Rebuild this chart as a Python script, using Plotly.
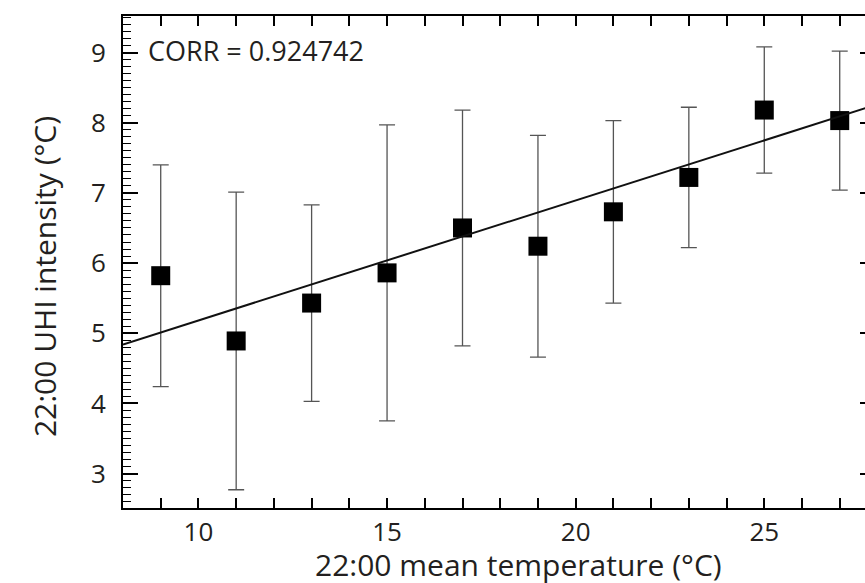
import plotly.graph_objects as go

# Data
temperature = [9, 11, 13, 15, 17, 19, 21, 23, 25, 27]
uhi_mean = [5.82, 4.89, 5.43, 5.86, 6.50, 6.24, 6.73, 7.22, 8.18, 8.03]
uhi_std = [1.58, 2.12, 1.40, 2.11, 1.68, 1.58, 1.30, 1.00, 0.90, 0.99]
fit_x = [8.0, 27.7]
fit_y = [4.84, 8.21]
corr_text = "CORR = 0.924742"
x_title = "22:00 mean temperature (°C)"
y_title = "22:00 UHI intensity (°C)"

INK = "#231f20"
FONT = "Open Sans"

fig = go.Figure()

fig.add_trace(go.Scatter(
    x=fit_x, y=fit_y, mode="lines",
    line=dict(color="#111111", width=2),
    yaxis="y2", hoverinfo="skip", showlegend=False,
))

fig.add_trace(go.Scatter(
    x=temperature, y=uhi_mean, mode="markers",
    marker=dict(symbol="square", size=19, color="#000000", line=dict(width=0)),
    error_y=dict(type="data", array=uhi_std, visible=True,
                 color="#555555", thickness=1.3, width=8),
    showlegend=False,
))

fig.update_layout(
    width=865, height=583,
    margin=dict(l=123, r=0, t=16, b=75),
    plot_bgcolor="white", paper_bgcolor="white",
    font=dict(family=FONT, color=INK),
    showlegend=False,
    xaxis=dict(
        range=[8.0, 27.67],
        tickmode="linear", tick0=10, dtick=5,
        ticks="inside", ticklen=10, tickwidth=1.5, tickcolor="black",
        showline=True, linecolor="black", linewidth=2, mirror="allticks",
        minor=dict(tick0=10, dtick=1, ticks="inside", ticklen=5,
                   tickwidth=1.5, tickcolor="black", showgrid=False),
        showgrid=False, zeroline=False,
        tickfont=dict(size=26, family=FONT, color=INK),
        ticklabelstandoff=0,
    ),
    yaxis=dict(
        range=[2.51, 9.52],
        tickmode="linear", tick0=3, dtick=1,
        ticks="inside", ticklen=15, tickwidth=1.5, tickcolor="black",
        showline=True, linecolor="black", linewidth=2, mirror=False,
        minor=dict(tick0=3, dtick=0.1, ticks="inside", ticklen=8,
                   tickwidth=1.3, tickcolor="black", showgrid=False),
        showgrid=False, zeroline=False,
        tickfont=dict(size=26, family=FONT, color=INK),
        ticklabelstandoff=10,
    ),
    yaxis2=dict(
        overlaying="y", side="right", matches="y",
        tickmode="linear", tick0=3, dtick=1,
        ticks="inside", ticklen=5, tickwidth=1.5, tickcolor="black",
        showticklabels=False, showline=False, showgrid=False, zeroline=False,
    ),
    annotations=[
        dict(text=corr_text, x=8.62, y=9.03, xref="x", yref="y",
             xanchor="left", yanchor="middle", showarrow=False,
             font=dict(size=27, family=FONT, color=INK)),
        dict(text=x_title, x=0.5326, y=-0.1145, xref="paper", yref="paper",
             xanchor="center", yanchor="middle", showarrow=False,
             font=dict(size=30, family=FONT, color=INK)),
        dict(text=y_title, x=-0.106, y=0.470, xref="paper", yref="paper",
             xanchor="center", yanchor="middle", showarrow=False, textangle=-90,
             font=dict(size=30, family=FONT, color=INK)),
    ],
)

fig.write_html(
    "out.html",
    config={"displayModeBar": False},
    post_script="document.body.style.margin='0px';document.body.style.overflow='hidden';",
)
